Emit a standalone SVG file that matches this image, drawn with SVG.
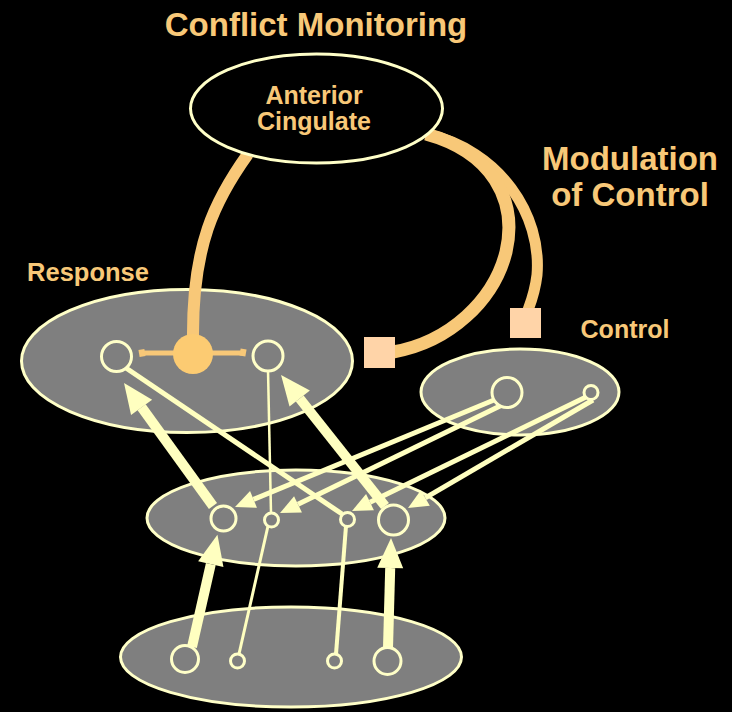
<svg xmlns="http://www.w3.org/2000/svg" width="732" height="712" viewBox="0 0 732 712">
  <defs>
    <style>
      .label { font-family: "Liberation Sans", Arial, sans-serif; font-weight: bold; fill: #F8C878; text-anchor: middle; }
      .layer { fill: #7F7F7F; stroke: #FFFFC8; stroke-width: 3; }
      .unit { fill: #7F7F7F; stroke: #FFFFC8; stroke-width: 3; }
      .path { fill: none; stroke: #FFFFC0; stroke-linecap: butt; }
      .acc { fill: none; stroke: #F8C878; stroke-linecap: butt; }
      .term { fill: #FFD4A8; }
    </style>
    <!-- arrowheads scale with stroke width; ref at base so the stroke never pokes past the tip -->
    <marker id="headWide" markerUnits="strokeWidth" markerWidth="3.2" markerHeight="3" refX="0" refY="1.5" orient="auto" overflow="visible">
      <path d="M0,0.2 L3,1.5 L0,2.8 Z" fill="#FFFFC0"/>
    </marker>
    <marker id="headThin" markerUnits="strokeWidth" markerWidth="4.2" markerHeight="3.8" refX="0" refY="1.9" orient="auto" overflow="visible">
      <path d="M0,0.1 L4,1.9 L0,3.7 Z" fill="#FFFFC0"/>
    </marker>
  </defs>

  <rect x="0" y="0" width="732" height="712" fill="#000000"/>

  <!-- titles -->
  <text class="label" x="316" y="36" font-size="33">Conflict Monitoring</text>
  <text class="label" x="630" y="170" font-size="33">Modulation</text>
  <text class="label" x="630" y="206" font-size="33">of Control</text>

  <!-- layers -->
  <g id="response-layer">
    <ellipse class="layer" cx="187" cy="361" rx="165.5" ry="71.5"/>
    <text class="label" x="88" y="281" font-size="25.5">Response</text>
  </g>
  <g id="control-layer">
    <ellipse class="layer" cx="520" cy="392" rx="99" ry="43"/>
    <text class="label" x="625" y="338" font-size="25">Control</text>
  </g>
  <g id="hidden-layer">
    <ellipse class="layer" cx="296" cy="518" rx="149" ry="48"/>
  </g>
  <g id="input-layer">
    <ellipse class="layer" cx="291" cy="657" rx="170.5" ry="50"/>
  </g>

  <!-- modulation pathways from the anterior cingulate -->
  <g id="modulation">
    <path class="acc" stroke-width="11" d="M 426 134 C 500 150, 542 215, 537 275 C 535 292, 531 302, 528 310"/>
    <path class="acc" stroke-width="13" d="M 426 134 C 492 152, 518 200, 506 252 C 494 300, 450 342, 393 352"/>
    <path class="acc" stroke-width="12" d="M 248 154 C 215 200, 192 245, 193 340"/>
    <rect class="term" x="364" y="337" width="31" height="31"/>
    <rect class="term" x="510" y="308" width="31" height="30"/>
  </g>

  <g id="anterior-cingulate">
    <ellipse cx="316.5" cy="108.5" rx="126" ry="54.5" fill="#000000" stroke="#FFFFC8" stroke-width="3"/>
    <text class="label" x="314" y="104" font-size="25">Anterior</text>
    <text class="label" x="314" y="130" font-size="25">Cingulate</text>
  </g>

  <!-- connectors between units -->
  <g id="connectors">
    <!-- input to hidden -->
    <line class="path" stroke-width="10" x1="192" y1="647" x2="210.8" y2="564.1" marker-end="url(#headWide)"/>
    <line class="path" stroke-width="10" x1="388" y1="648" x2="390.2" y2="568" marker-end="url(#headWide)"/>
    <line class="path" stroke-width="3" x1="239" y1="654" x2="268" y2="526"/>
    <line class="path" stroke-width="4" x1="336" y1="654" x2="346" y2="526"/>
    <!-- hidden to response -->
    <line class="path" stroke-width="10" x1="213" y1="506" x2="141.6" y2="407.3" marker-end="url(#headWide)"/>
    <line class="path" stroke-width="10" x1="385" y1="506" x2="299.7" y2="398.5" marker-end="url(#headWide)"/>
    <line class="path" stroke-width="5" x1="126" y1="368" x2="342" y2="514"/>
    <line class="path" stroke-width="2.5" x1="268" y1="370" x2="271" y2="513"/>
    <!-- control to hidden -->
    <line class="path" stroke-width="5" x1="494" y1="400" x2="253.5" y2="499.4" marker-end="url(#headThin)"/>
    <line class="path" stroke-width="5" x1="500" y1="406" x2="298" y2="504.3" marker-end="url(#headThin)"/>
    <line class="path" stroke-width="5" x1="586" y1="397" x2="370" y2="502.2" marker-end="url(#headThin)"/>
    <line class="path" stroke-width="5" x1="593" y1="400" x2="425.3" y2="497.9" marker-end="url(#headThin)"/>
  </g>

  <!-- conflict detector on the response layer -->
  <g id="conflict-unit">
    <line x1="143" y1="353" x2="243" y2="353" stroke="#F8C878" stroke-width="5"/>
    <rect x="139" y="349.5" width="6" height="7" fill="#F8C878" transform="rotate(-10 142 353)"/>
    <rect x="240" y="349" width="6" height="7" fill="#F8C878" transform="rotate(10 243 352.5)"/>
    <circle cx="193" cy="354" r="20" fill="#FCCB72"/>
  </g>

  <!-- units -->
  <g id="response-units">
    <circle class="unit" cx="116.5" cy="356.5" r="15"/>
    <circle class="unit" cx="268" cy="356" r="15"/>
  </g>
  <g id="control-units">
    <circle class="unit" cx="507" cy="392.5" r="15"/>
    <circle class="unit" cx="591" cy="392.5" r="7"/>
  </g>
  <g id="hidden-units">
    <circle class="unit" cx="223.5" cy="518.5" r="12.5"/>
    <circle class="unit" cx="271.5" cy="520" r="7"/>
    <circle class="unit" cx="347.5" cy="519.5" r="7"/>
    <circle class="unit" cx="393.5" cy="520" r="15"/>
  </g>
  <g id="input-units">
    <circle class="unit" cx="185" cy="659" r="13.5"/>
    <circle class="unit" cx="237.5" cy="661" r="7"/>
    <circle class="unit" cx="334.5" cy="661" r="7"/>
    <circle class="unit" cx="387.5" cy="661" r="13.5"/>
  </g>
</svg>
